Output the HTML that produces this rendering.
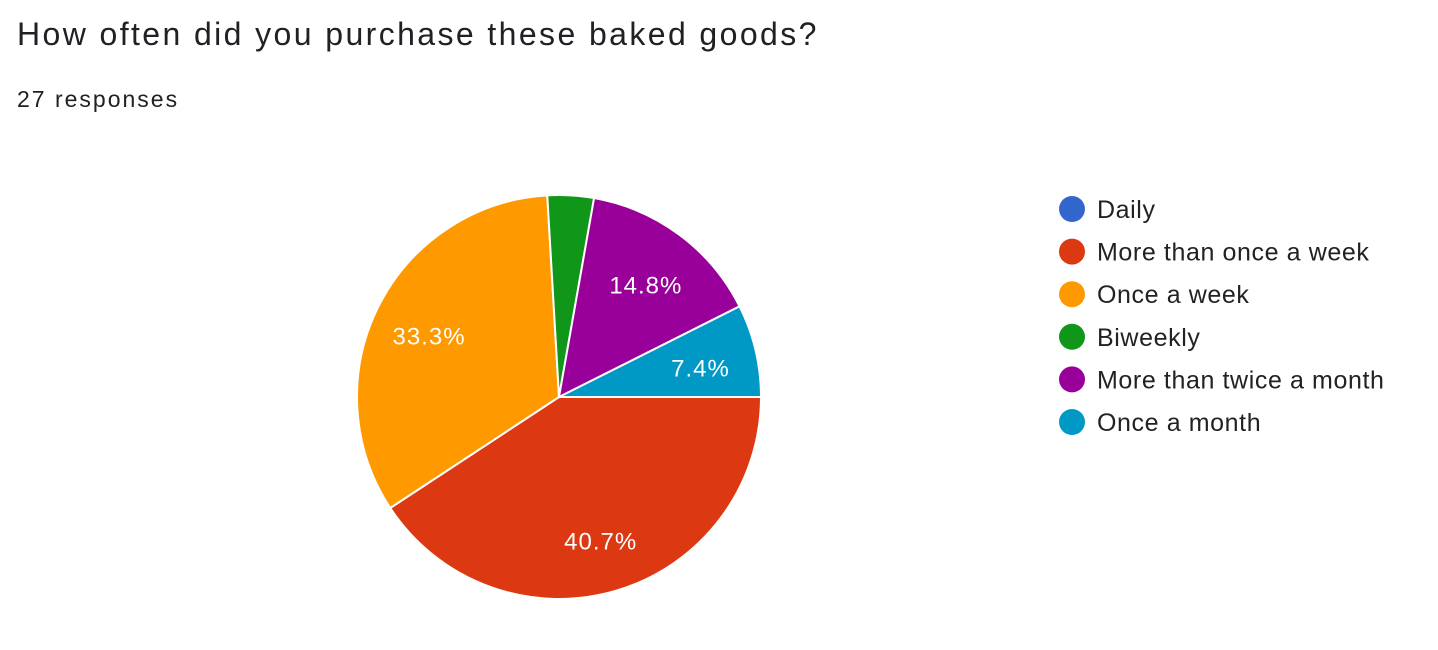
<!DOCTYPE html>
<html><head><meta charset="utf-8"><style>
body{margin:0;width:1438px;height:650px;background:#fff;font-family:"Liberation Sans",Arial,sans-serif;overflow:hidden;position:relative}
#title{position:absolute;left:17px;top:16px;font-size:32px;letter-spacing:2.4px;color:#202124;white-space:nowrap}
#sub{position:absolute;left:17px;top:86px;font-size:23px;color:#202124;letter-spacing:2px}
svg{position:absolute;left:0;top:0}
</style></head><body>
<div id="title">How often did you purchase these baked goods?</div>
<div id="sub">27 responses</div>
<svg id="chart" width="1438" height="650"></svg>
<script>
const categories=["Daily","More than once a week","Once a week","Biweekly","More than twice a month","Once a month"];
const counts=[0,11,9,1,4,2];
const colors=["#3366cc","#dc3912","#ff9900","#109618","#990099","#0099c6"];
const NS="http://www.w3.org/2000/svg";
const svg=document.getElementById('chart');
const cx=559,cy=397,R=202;
const total=counts.reduce((a,b)=>a+b,0);
function pt(a,r){return [cx+r*Math.cos(a),cy+r*Math.sin(a)];}
let ang=0;
counts.forEach((v,i)=>{
  if(v<=0)return;
  const sweep=v/total*2*Math.PI;
  const a0=ang,a1=ang+sweep;
  const p0=pt(a0,R),p1=pt(a1,R);
  const path=document.createElementNS(NS,'path');
  path.setAttribute('d',`M${cx},${cy} L${p0[0]},${p0[1]} A${R},${R} 0 ${sweep>Math.PI?1:0} 1 ${p1[0]},${p1[1]} Z`);
  path.setAttribute('fill',colors[i]);
  path.setAttribute('stroke','#fff');
  path.setAttribute('stroke-width','2');
  
  
  svg.appendChild(path);
  const pct=v/total*100;
  if(pct>5){
    const m=pt((a0+a1)/2,R*0.72);
    const t=document.createElementNS(NS,'text');
    t.setAttribute('x',m[0]);t.setAttribute('y',m[1]+13);
    t.setAttribute('text-anchor','middle');t.setAttribute('fill','#fff');
    t.setAttribute('font-size','24');t.setAttribute('letter-spacing','1');
    t.textContent=pct.toFixed(1)+'%';
    
    
    svg.appendChild(t);
  }
  ang=a1;
});
categories.forEach((c,i)=>{
  const y=209+i*42.6;
  const g=document.createElementNS(NS,'g');
  
  
  const ci=document.createElementNS(NS,'circle');
  ci.setAttribute('cx',1072);ci.setAttribute('cy',y);ci.setAttribute('r',13);ci.setAttribute('fill',colors[i]);
  g.appendChild(ci);
  const t=document.createElementNS(NS,'text');
  t.setAttribute('x',1097);t.setAttribute('y',y+9);t.setAttribute('font-size','25');t.setAttribute('letter-spacing','0.6');t.setAttribute('fill','#222');
  t.textContent=c;
  g.appendChild(t);
  svg.appendChild(g);
});
</script>
</body></html>
